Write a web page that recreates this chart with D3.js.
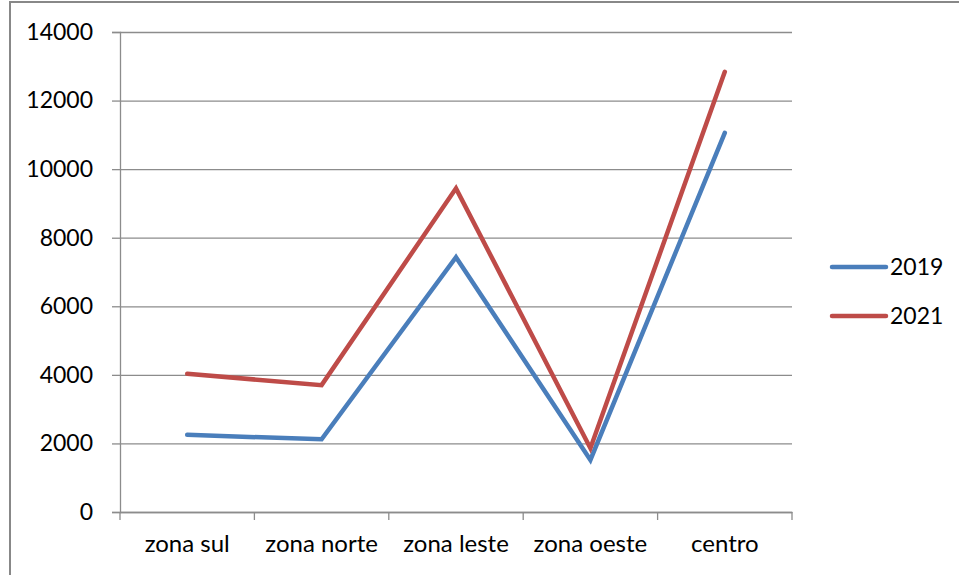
<!DOCTYPE html>
<html>
<head>
<meta charset="utf-8">
<script src="https://cdn.jsdelivr.net/npm/d3@7"></script>
<style>
  html, body { margin: 0; padding: 0; background: #fff; }
  svg { display: block; }
  text { font-family: "Lato", "Liberation Sans", sans-serif; fill: #000; }
</style>
</head>
<body>
<svg id="chart" width="959" height="575"></svg>
<script>
const categories = ["zona sul", "zona norte", "zona leste", "zona oeste", "centro"];
const seriesNames = ["2019", "2021"];
const values2019 = [2250, 2120, 7430, 1520, 11060];
const values2021 = [4030, 3700, 9440, 1860, 12840];
const yTicks = [0, 2000, 4000, 6000, 8000, 10000, 12000, 14000];
const colors = ["#4A7EBB", "#BE4B48"];

const series = [
  { name: seriesNames[0], values: values2019, color: colors[0] },
  { name: seriesNames[1], values: values2021, color: colors[1] }
];

const svg = d3.select("#chart");
const W = 959, H = 575;
const margin = { left: 120, right: W - 792, top: 32, bottom: H - 512 };

// outer frame
svg.append("rect")
  .attr("x", 10).attr("y", 2)
  .attr("width", W + 20).attr("height", H + 20)
  .attr("fill", "none").attr("stroke", "#888").attr("stroke-width", 2);

const x = d3.scaleBand().domain(categories).range([margin.left, W - margin.right]).padding(0);
const y = d3.scaleLinear().domain([0, 14000]).range([H - margin.bottom, margin.top]);

// gridlines
const grid = svg.append("g").attr("transform", `translate(${margin.left},0)`)
  .call(d3.axisLeft(y).tickValues(yTicks).tickSize(-(W - margin.right - margin.left)).tickFormat(""));
grid.select(".domain").remove();
grid.selectAll("line").attr("stroke", "#8c8c8c").attr("stroke-width", 1.3);

// y axis
const yAxis = svg.append("g").attr("transform", `translate(${margin.left},0)`)
  .call(d3.axisLeft(y).tickValues(yTicks).tickSize(8).tickPadding(19).tickFormat(d3.format("d")));
yAxis.select(".domain").attr("stroke", "#8c8c8c").attr("stroke-width", 1.3);
yAxis.selectAll("line").attr("stroke", "#8c8c8c").attr("stroke-width", 1.3);
yAxis.selectAll("text").attr("font-size", 23).attr("font-family", "Lato, 'Liberation Sans', sans-serif").attr("fill", "#000");

// x axis
const xAxis = svg.append("g").attr("transform", `translate(0,${H - margin.bottom})`)
  .call(d3.axisBottom(x).tickSize(0).tickPadding(23));
xAxis.select(".domain").attr("stroke", "#8c8c8c").attr("stroke-width", 1.3);
xAxis.selectAll("text").attr("font-size", 24).attr("font-family", "Lato, 'Liberation Sans', sans-serif").attr("fill", "#000");
// boundary tick marks
const bounds = categories.map(c => x(c)).concat([x(categories[categories.length - 1]) + x.bandwidth()]);
svg.append("g").selectAll("line").data(bounds).join("line")
  .attr("x1", d => d).attr("x2", d => d)
  .attr("y1", H - margin.bottom).attr("y2", H - margin.bottom + 8)
  .attr("stroke", "#8c8c8c").attr("stroke-width", 1.3);

// lines
const line = d3.line()
  .x((d, i) => x(categories[i]) + x.bandwidth() / 2)
  .y(d => y(d));

svg.append("g").selectAll("path").data(series).join("path")
  .attr("d", d => line(d.values))
  .attr("fill", "none")
  .attr("stroke", d => d.color)
  .attr("stroke-width", 4.5)
  .attr("stroke-linecap", "round")
  .attr("stroke-linejoin", "miter");

// legend
const legend = svg.append("g");
const legendY = [267, 316];
series.forEach((s, i) => {
  legend.append("line")
    .attr("x1", 832).attr("x2", 886)
    .attr("y1", legendY[i]).attr("y2", legendY[i])
    .attr("stroke", s.color).attr("stroke-width", 4.5).attr("stroke-linecap", "round");
  legend.append("text")
    .attr("x", 890).attr("y", legendY[i])
    .attr("dy", "0.35em")
    .attr("font-size", 23)
    .text(s.name);
});
</script>
</body>
</html>
